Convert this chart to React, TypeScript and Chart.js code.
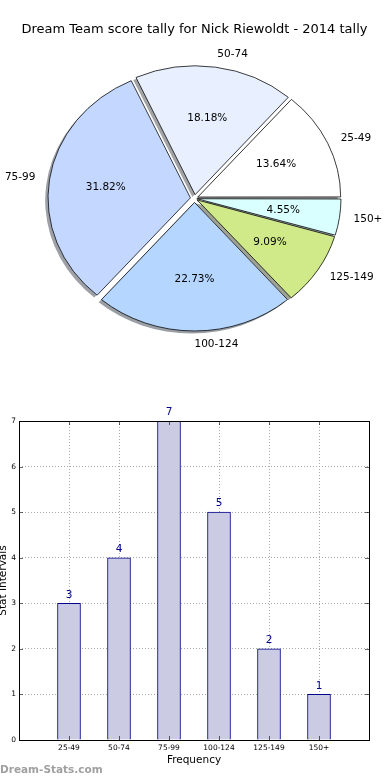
import React, { useEffect, useRef } from 'react';
import { Chart, registerables } from 'chart.js';

Chart.register(...registerables);

const chartTitle = 'Dream Team score tally for Nick Riewoldt - 2014 tally';
const categories = ['25-49', '50-74', '75-99', '100-124', '125-149', '150+'];
const counts = [3, 4, 7, 5, 2, 1];
const sliceColors = ['#ffffff', '#e8f0ff', '#c4d8ff', '#b5d6ff', '#d0ea8a', '#d9ffff'];
const yTickValues = [0, 1, 2, 3, 4, 5, 6, 7];
const xAxisTitle = 'Frequency';
const yAxisTitle = 'Stat Intervals';
const watermark = 'Dream-Stats.com';

const FONT = "'DejaVu Sans', sans-serif";
const R = 142; // pie radius
const SY = 0.905; // vertical squash of the pie (non-equal aspect)
const D = 4.5; // explode distance
const SH = 2.84; // shadow offset

function shadowColor(hex: string) {
  const n = parseInt(hex.slice(1), 16);
  const r = (n >> 16) & 255, g = (n >> 8) & 255, b = n & 255;
  return `rgba(${Math.round(r * 0.3)},${Math.round(g * 0.3)},${Math.round(b * 0.3)},0.5)`;
}

export default function App() {
  const pieRef = useRef<HTMLCanvasElement | null>(null);
  const barRef = useRef<HTMLCanvasElement | null>(null);

  useEffect(() => {
    const total = counts.reduce((a, b) => a + b, 0);
    const pieLabels = [...categories].reverse();
    const pieData = [...counts].reverse();
    const pieColors = [...sliceColors].reverse();
    const pieOffsets = pieData.map((v) => {
      const circ = (v / total) * 2 * Math.PI;
      return (4 * D) / (2 - Math.sin(Math.min(Math.PI, circ)));
    });

    const pieDecor = {
      id: 'pieDecor',
      beforeDatasetsDraw(chart: any) {
        const ctx = chart.ctx;
        const arcs = chart.getDatasetMeta(0).data;
        const cx = arcs[0].x, cy = arcs[0].y;
        ctx.save();
        ctx.translate(cx, cy);
        ctx.scale(1, SY);
        ctx.translate(-cx, -cy);
        arcs.forEach((a: any, i: number) => {
          const h = (a.startAngle + a.endAngle) / 2;
          const ox = a.x + Math.cos(h) * D - SH;
          const oy = a.y + Math.sin(h) * D + SH;
          ctx.beginPath();
          ctx.moveTo(ox, oy);
          ctx.arc(ox, oy, a.outerRadius, a.startAngle, a.endAngle);
          ctx.closePath();
          ctx.fillStyle = shadowColor(pieColors[i]);
          ctx.fill();
        });
      },
      afterDatasetsDraw(chart: any) {
        const ctx = chart.ctx;
        ctx.restore();
        const arcs = chart.getDatasetMeta(0).data;
        ctx.save();
        ctx.fillStyle = '#000';
        ctx.font = `10.5px ${FONT}`;
        ctx.textBaseline = 'middle';
        arcs.forEach((a: any, i: number) => {
          const h = (a.startAngle + a.endAngle) / 2;
          const c = Math.cos(h), s = Math.sin(h);
          const pr = D + 0.6 * a.outerRadius;
          ctx.textAlign = 'center';
          ctx.fillText(((pieData[i] / total) * 100).toFixed(2) + '%', a.x + pr * c, a.y + pr * s * SY);
          const lr = D + 1.1 * a.outerRadius;
          ctx.textAlign = c > -1e-6 ? 'left' : 'right';
          ctx.fillText(pieLabels[i], a.x + lr * c, a.y + lr * s * SY);
        });
        ctx.restore();
      },
    };

    const pie = new Chart(pieRef.current as HTMLCanvasElement, {
      type: 'pie',
      data: {
        labels: pieLabels,
        datasets: [
          {
            data: pieData,
            backgroundColor: pieColors,
            borderColor: '#000',
            borderWidth: 0.8,
            offset: pieOffsets,
            radius: R,
            clip: false as any,
          } as any,
        ],
      },
      options: {
        responsive: false,
        animation: false,
        rotation: 90,
        layout: { padding: { left: 0, right: 1, top: 0, bottom: 20.8 } },
        plugins: {
          legend: { display: false },
          tooltip: { enabled: false },
          title: {
            display: true,
            text: chartTitle,
            color: '#000',
            font: { family: FONT, size: 13, weight: 'normal' as any, lineHeight: 1.2 },
            padding: { top: 22, bottom: 0 },
          },
        },
      } as any,
      plugins: [pieDecor],
    });

    const barPoints = categories.map((_, i) => ({ x: i, y: counts[i] }));

    const barDecor = {
      id: 'barDecor',
      afterDraw(chart: any) {
        const ctx = chart.ctx;
        const a = chart.chartArea;
        const xs = chart.scales.x, ys = chart.scales.y;
        ctx.save();
        // tick marks (inward, all sides)
        ctx.strokeStyle = '#000';
        ctx.lineWidth = 0.6;
        ctx.beginPath();
        categories.forEach((_, i) => {
          const px = Math.round(xs.getPixelForValue(i)) + 0.5;
          ctx.moveTo(px, a.bottom);
          ctx.lineTo(px, a.bottom - 4);
          ctx.moveTo(px, a.top);
          ctx.lineTo(px, a.top + 4);
        });
        yTickValues.forEach((v) => {
          const py = Math.round(ys.getPixelForValue(v)) + 0.5;
          ctx.moveTo(a.left, py);
          ctx.lineTo(a.left + 4, py);
          ctx.moveTo(a.right, py);
          ctx.lineTo(a.right - 4, py);
        });
        ctx.stroke();
        // frame
        ctx.lineWidth = 1;
        ctx.strokeRect(Math.round(a.left) + 0.5, Math.round(a.top) + 0.5, Math.round(a.right - a.left), Math.round(a.bottom - a.top));
        // value labels
        const meta = chart.getDatasetMeta(0);
        ctx.fillStyle = '#00008b';
        ctx.font = `10.5px ${FONT}`;
        ctx.textAlign = 'center';
        ctx.textBaseline = 'middle';
        meta.data.forEach((b: any, i: number) => {
          ctx.fillText(String(counts[i]), b.x, b.y - 8.5);
        });
        ctx.restore();
      },
    };

    const bar = new Chart(barRef.current as HTMLCanvasElement, {
      type: 'bar',
      data: {
        datasets: [
          {
            data: barPoints,
            backgroundColor: '#cbcbe3',
            borderColor: '#00008b',
            borderWidth: 1,
            barThickness: 23,
          } as any,
        ],
      },
      options: {
        responsive: false,
        animation: false,
        layout: { padding: { left: 0, right: 21, top: 41, bottom: 0 } },
        plugins: { legend: { display: false }, tooltip: { enabled: false } },
        scales: {
          x: {
            type: 'linear',
            min: -1,
            max: 6,
            offset: false,
            z: 1,
            afterFit: (s: any) => {
              s.height = 40;
            },
            ticks: {
              stepSize: 1,
              autoSkip: false,
              maxRotation: 0,
              padding: 4,
              color: '#000',
              font: { family: FONT, size: 7.5 },
              callback: (v: any) => categories[v] ?? '',
            },
            grid: { color: '#a8a8a8', lineWidth: 1, drawTicks: false, offset: false },
            border: { display: false, dash: [1, 2] },
            title: {
              display: true,
              text: xAxisTitle,
              color: '#000',
              font: { family: FONT, size: 10.5 },
              padding: { top: 0, bottom: 13.7 },
            },
          },
          y: {
            min: 0,
            max: 7,
            z: 1,
            afterFit: (s: any) => {
              s.width = 19;
            },
            ticks: {
              stepSize: 1,
              padding: 3,
              color: '#000',
              font: { family: FONT, size: 7.5 },
            },
            grid: { color: '#a8a8a8', lineWidth: 1, drawTicks: false, offset: false },
            border: { display: false, dash: [1, 2] },
            title: {
              display: true,
              text: yAxisTitle,
              color: '#000',
              font: { family: FONT, size: 10.5 },
              padding: { top: -3.3, bottom: 0 },
            },
          },
        },
      } as any,
      plugins: [barDecor],
    });

    return () => {
      pie.destroy();
      bar.destroy();
    };
  }, []);

  return (
    <div style={{ position: 'absolute', left: 0, top: 0, width: 390, height: 780, background: '#fff', overflow: 'hidden' }}>
      <canvas ref={pieRef} width={390} height={380} style={{ position: 'absolute', left: 0, top: 0, width: 390, height: 380 }} />
      <canvas ref={barRef} width={390} height={400} style={{ position: 'absolute', left: 0, top: 380, width: 390, height: 400 }} />
      <div
        style={{
          position: 'absolute',
          left: 0,
          top: 763,
          fontFamily: FONT,
          fontWeight: 'bold',
          fontSize: 10.5,
          lineHeight: '12px',
          color: '#a0a0a0',
          whiteSpace: 'nowrap',
        }}
      >
        {watermark}
      </div>
    </div>
  );
}
